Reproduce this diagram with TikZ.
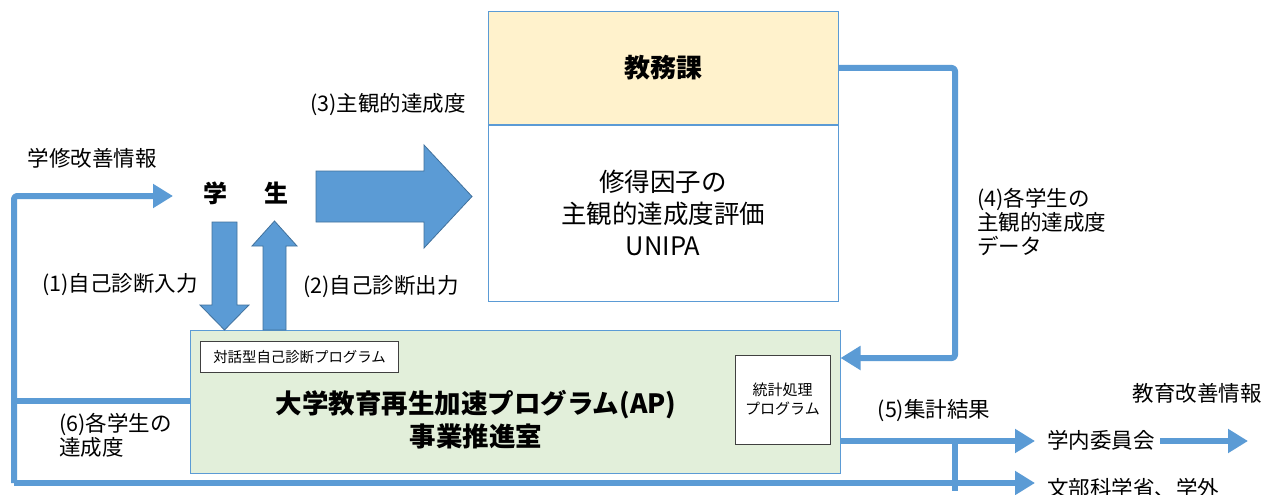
\documentclass[tikz,border=0pt]{standalone}
\usepackage{fontspec}
\setmainfont{Noto Sans CJK JP}
\usetikzlibrary{arrows.meta}
\definecolor{myblue}{HTML}{5B9BD5}
\definecolor{myblueD}{HTML}{41719C}
\definecolor{kyellow}{HTML}{FFF2CC}
\definecolor{apgreen}{HTML}{E2EFDA}
\definecolor{darkgr}{HTML}{404040}
\newcommand{\myfs}[2]{\fontsize{#1}{#2}\selectfont}
\tikzset{
  conn/.style={line width=6pt, draw=myblue, rounded corners=3pt, line join=round},
  tipA/.style={-{Triangle[length=20pt,width=23pt]}},
  blockarrow/.style={fill=myblue, draw=myblueD, line width=0.8pt},
  bluebox/.style={draw=myblue, line width=1pt, rectangle, inner sep=0pt},
  label/.style={inner sep=1pt, font=\myfs{21.5}{24}, text=black},
  smallbox/.style={draw=darkgr, fill=white, line width=1pt, rectangle, inner sep=0pt, align=center}
}
\begin{document}
\begin{tikzpicture}[x=1pt,y=-1pt]
\useasboundingbox[fill=white] (0,0) rectangle (1264,495);

% boxes
\node[bluebox, fill=kyellow, minimum width=350pt, minimum height=112pt, font=\myfs{26}{30}\bfseries] (kyomu) at (663,68) {教務課};
\node[bluebox, fill=white, minimum width=350pt, minimum height=176pt, align=center, font=\myfs{25.5}{32}] (unipa) at (663,213) {修得因子の\\主観的達成度評価\\UNIPA};
\node[bluebox, fill=apgreen, minimum width=650pt, minimum height=143pt] (ap) at (515,401.5) {};
\node[inner sep=0pt, align=center, font=\myfs{26.5}{33}\bfseries] (aptext) at (476,420) {大学教育再生加速プログラム(AP)\\事業推進室};
\node[smallbox, minimum width=198pt, minimum height=31pt, font=\myfs{14.4}{18}] (taiwa) at (299.5,357) {対話型自己診断プログラム};
\node[smallbox, minimum width=95pt, minimum height=89pt, font=\myfs{15}{19}] (tokei) at (782.5,399.5) {統計処理\\プログラム};

% student
\node[inner sep=1pt, font=\myfs{24}{28}\bfseries] (student) at (246,193) {学\hspace{38pt}生};

% labels
\node[label] (lab0) at (92,158) {学修改善情報};
\node[label] (lab1) at (120,285) {(1)自己診断入力};
\node[label] (lab2) at (381,287) {(2)自己診断出力};
\node[label] (lab3) at (388,105) {(3)主観的達成度};
\node[label, anchor=west, align=left] (lab4) at (976,222) {(4)各学生の\\主観的達成度\\データ};
\node[label] (lab5) at (934,411) {(5)集計結果};
\node[label, anchor=west, align=left] (lab6) at (58,435.5) {(6)各学生の\\達成度};
\node[label] (lab7) at (1197,393) {教育改善情報};
\node[label, anchor=west] (iinkai) at (1046,440) {学内委員会};
\node[label, anchor=west] (monka) at (1046,488) {文部科学省、学外};

% block arrows
\path[blockarrow] (316,171) -- (424,171) -- (424,145) -- (472,196.5) -- (424,248) -- (424,222) -- (316,222) -- cycle;
\path[blockarrow] (212,222) -- (237,222) -- (237,305) -- (249,305) -- (224.5,330) -- (200,305) -- (212,305) -- cycle;
\path[blockarrow] (263,330) -- (286,330) -- (286,246) -- (297,246) -- (274.5,221) -- (252,246) -- (263,246) -- cycle;

% connector coordinates
\coordinate (Lbot) at (14,483);
\coordinate (Ltop) at (14,196);
\coordinate (stuin) at (173,196);
\coordinate (L6) at (14,401);
\coordinate (c4) at (955,358);
\coordinate (j1) at (955,441);
\coordinate (j2) at (955,491);
\coordinate (kaizen) at (1248,441);

% connectors
\draw[conn, tipA] (Lbot) -- (Ltop) -- (stuin);
\draw[conn] (ap.west |- L6) -- (L6);
\draw[conn, tipA] (Lbot) -- ([xshift=-11pt]monka.west |- Lbot);
\draw[conn, tipA] (kyomu.east) -| (c4) -- (ap.east |- c4);
\draw[conn, tipA] (ap.east |- j1) -- ([xshift=-11pt]iinkai.west |- j1);
\draw[conn] (j1) -- (j2);
\draw[conn, tipA] ([xshift=4pt]iinkai.east |- kaizen) -- (kaizen);
\end{tikzpicture}
\end{document}
